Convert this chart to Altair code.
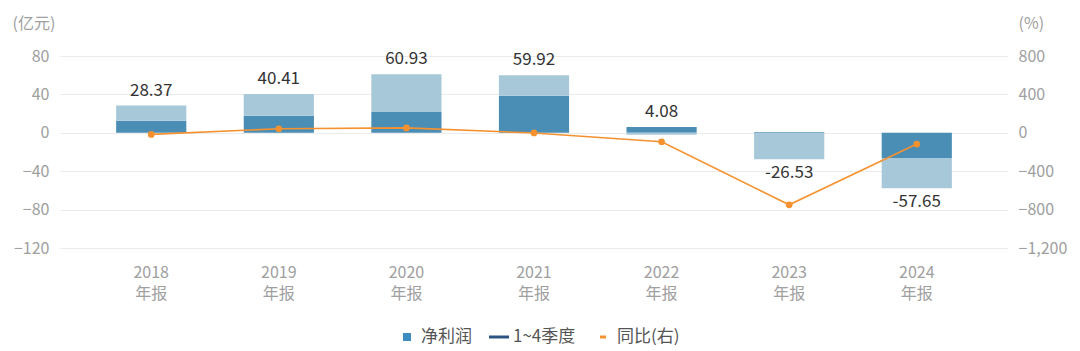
import altair as alt
import pandas as pd

years = ["2018", "2019", "2020", "2021", "2022", "2023", "2024"]
totals = [28.37, 40.41, 60.93, 59.92, 4.08, -26.53, -57.65]
dark_part = [12.5, 17.7, 21.6, 38.5, 6.0, 0.9, -26.3]
light_part = [15.87, 22.71, 39.33, 21.42, -1.92, -27.43, -31.35]
yoy = [-16.5, 42.4, 50.8, -1.7, -93.2, -750.2, -117.3]
legend_names = ["净利润", "1~4季度", "同比(右)"]

DARK = "#4a8db5"
LIGHT = "#a7c8d9"
ORANGE = "#f5922f"
FONT = "Noto Sans CJK SC"

rows = []
for i, y in enumerate(years):
    rows.append({"year": y, "part": "a", "order": 1, "value": dark_part[i]})
    rows.append({"year": y, "part": "b", "order": 2, "value": light_part[i]})
bars_df = pd.DataFrame(rows)

lab_rows = []
for i, y in enumerate(years):
    d, l = dark_part[i], light_part[i]
    if totals[i] >= 0:
        pos = max(d, 0) + max(l, 0)
    else:
        pos = min(d, 0) + min(l, 0)
    lab_rows.append({"year": y, "pos": pos, "total": totals[i], "txt": f"{totals[i]:.2f}"})
lab_df = pd.DataFrame(lab_rows)

line_df = pd.DataFrame({"year": years, "yoy": yoy})
leg_df = pd.DataFrame({"name": legend_names, "v": [0, 0, 0], "year": [years[0]] * 3})

xscale = alt.Scale(domain=years, paddingInner=0.45, paddingOuter=0.44)
xaxis = alt.Axis(title=None, labelAngle=0, domain=False, ticks=False,
                 labelExpr="[datum.label, '年报']", labelFontSize=16,
                 labelColor="#a0a0a0", labelFont=FONT, labelPadding=16,
                 labelLineHeight=21, grid=False)
x = alt.X("year:N", scale=xscale, axis=xaxis, sort=years)

yscale = alt.Scale(domain=[-120, 80], nice=False, zero=False)
yaxis = alt.Axis(title="(亿元)", titleAngle=0, titleX=-48, titleY=-33,
                 titleAlign="left", titleBaseline="middle", titleFontSize=16,
                 titleFontWeight="normal", titleColor="#a0a0a0", titleFont=FONT,
                 values=[80, 40, 0, -40, -80, -120], labelFontSize=16,
                 labelColor="#a0a0a0", labelFont=FONT, labelPadding=11,
                 domain=False, ticks=False, grid=True, gridColor="#ebebeb", gridWidth=1)

bars = alt.Chart(bars_df).mark_bar().encode(
    x=x,
    y=alt.Y("sum(value):Q", scale=yscale, axis=yaxis, stack="zero", title="(亿元)"),
    color=alt.Color("part:N", scale=alt.Scale(domain=["a", "b"], range=[DARK, LIGHT]), legend=None),
    order=alt.Order("order:Q"),
)

lab_pos = alt.Chart(lab_df).transform_filter("datum.total >= 0").mark_text(
    baseline="bottom", dy=-6, fontSize=17, color="#333333", font=FONT
).encode(x=x, y=alt.Y("pos:Q", scale=yscale, axis=yaxis, title="(亿元)"), text="txt:N")

lab_neg = alt.Chart(lab_df).transform_filter("datum.total < 0").mark_text(
    baseline="top", dy=6, fontSize=17, color="#333333", font=FONT
).encode(x=x, y=alt.Y("pos:Q", scale=yscale, axis=yaxis, title="(亿元)"), text="txt:N")

left = alt.layer(bars, lab_pos, lab_neg)

rscale = alt.Scale(domain=[-1200, 800], nice=False, zero=False)
raxis = alt.Axis(title="(%)", orient="right", titleAngle=0, titleX=10, titleY=-33,
                 titleAlign="left", titleBaseline="middle", titleFontSize=16,
                 titleFontWeight="normal", titleColor="#a0a0a0", titleFont=FONT,
                 values=[800, 400, 0, -400, -800, -1200], format=",.0f",
                 labelFontSize=16, labelColor="#a0a0a0", labelFont=FONT,
                 labelPadding=10, domain=False, ticks=False, grid=False)

line = alt.Chart(line_df).mark_line(color=ORANGE, strokeWidth=1.6).encode(
    x=x, y=alt.Y("yoy:Q", scale=rscale, axis=raxis, title="(%)")
)
pts = alt.Chart(line_df).mark_point(filled=True, color=ORANGE, size=45, opacity=1).encode(
    x=x, y=alt.Y("yoy:Q", scale=rscale, axis=raxis, title="(%)")
)

leg = alt.Legend(title=None, orient="none", legendX=337, legendY=271,
                 direction="horizontal", symbolOpacity=1, symbolSize=400,
                 symbolStrokeWidth=0, labelFontSize=17, labelColor="#555555",
                 labelFont=FONT, columnPadding=17, labelOffset=4)

legend_layer = alt.Chart(leg_df).mark_point(filled=True, size=0, opacity=1).encode(
    x=x,
    y=alt.Y("v:Q", scale=rscale, axis=raxis, title="(%)"),
    color=alt.Color("name:N", scale=alt.Scale(domain=legend_names, range=["#3a8cc1", "#2b5580", ORANGE]),
                    legend=leg),
    shape=alt.Shape("name:N", scale=alt.Scale(domain=legend_names, range=[
        "M-0.4,-0.4H0.4V0.4H-0.4Z",
        "M-1,-0.15H1V0.15H-1Z",
        "M-0.3,-0.15H0.3V0.15H-0.3Z"]), legend=leg),
)

right = alt.layer(line, pts, legend_layer)

chart = alt.layer(left, right).resolve_scale(
    y="independent", color="independent", shape="independent"
).properties(
    width=948, height=192,
    autosize=alt.AutoSizeParams(type="none"),
    padding={"left": 60, "top": 56, "right": 72, "bottom": 103},
    background="white",
).configure_view(stroke=None)

chart.save("out.html", embed_options={"renderer": "svg", "actions": False})
